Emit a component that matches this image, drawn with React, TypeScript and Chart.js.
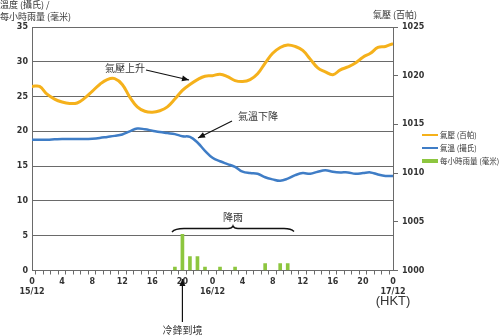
import React, { useEffect, useRef } from 'react';
import { Chart, registerables } from 'chart.js';

Chart.register(...registerables);

// ---- data ----
const hours = [0,1,2,3,4,5,6,7,8,9,10,11,12,13,14,15,16,17,18,19,20,21,22,23,24,25,26,27,28,29,30,31,32,33,34,35,36,37,38,39,40,41,42,43,44,45,46,47,48];
const pressure = [1018.9,1018.9,1018.1,1017.6,1017.3,1017.15,1017.2,1017.7,1018.4,1019.1,1019.6,1019.7,1019.1,1017.8,1016.8,1016.35,1016.25,1016.4,1016.8,1017.6,1018.5,1019.1,1019.6,1019.95,1020.0,1020.15,1019.9,1019.5,1019.4,1019.6,1020.2,1021.3,1022.3,1022.9,1023.15,1023.0,1022.6,1021.7,1020.8,1020.4,1020.1,1020.6,1020.9,1021.3,1021.9,1022.3,1022.9,1023.0,1023.3];
const temperature = [18.8,18.8,18.8,18.85,18.9,18.9,18.9,18.9,18.95,19.05,19.2,19.35,19.55,20.0,20.4,20.3,20.1,19.9,19.75,19.6,19.3,19.2,18.4,17.2,16.2,15.7,15.3,14.9,14.2,14.0,13.9,13.4,13.1,12.9,13.2,13.7,14.0,13.9,14.2,14.4,14.2,14.1,14.1,13.9,14.0,14.1,13.8,13.6,13.6];
const rainHours = [19,20,21,22,23,25,27,31,33,34];
const rainfall = [0.5,5.2,2,2,0.5,0.5,0.5,1,1,1];

const xLabelHours = [0,4,8,12,16,20,24,28,32,36,40,44,48];
const xLabels = ['0','4','8','12','16','20','0','4','8','12','16','20','0'];
const dateLabelHours = [0,24,48];
const dateLabels = ['15/12','16/12','17/12'];

const seriesNames = ['氣壓 (百帕)', '氣溫 (攝氏)', '每小時雨量 (毫米)'];
const leftTitle = ['溫度 (攝氏) /', '每小時雨量 (毫米)'];
const rightTitle = '氣壓 (百帕)';

const COL_P = '#F5B11B';
const COL_T = '#3F7DC6';
const COL_R = '#8DC63F';
const GRID = '#6a6a6a';
const TXT = '#333333';
const CJK = '"Noto Sans CJK TC", "Noto Sans CJK SC", sans-serif';
const NUM = '"DejaVu Sans", sans-serif';

function arrow(ctx: CanvasRenderingContext2D, x1: number, y1: number, x2: number, y2: number) {
  ctx.save();
  ctx.strokeStyle = '#111';
  ctx.fillStyle = '#111';
  ctx.lineWidth = 1.2;
  ctx.beginPath();
  ctx.moveTo(x1, y1);
  ctx.lineTo(x2, y2);
  ctx.stroke();
  const a = Math.atan2(y2 - y1, x2 - x1);
  const L = 7, W = 3;
  ctx.beginPath();
  ctx.moveTo(x2, y2);
  ctx.lineTo(x2 - L * Math.cos(a) + W * Math.sin(a), y2 - L * Math.sin(a) - W * Math.cos(a));
  ctx.lineTo(x2 - L * Math.cos(a) - W * Math.sin(a), y2 - L * Math.sin(a) + W * Math.cos(a));
  ctx.closePath();
  ctx.fill();
  ctx.restore();
}

const decor = {
  id: 'decor',
  afterDraw(chart: any) {
    const ctx: CanvasRenderingContext2D = chart.ctx;
    const xs = chart.scales.x;
    ctx.save();
    ctx.fillStyle = TXT;
    ctx.textBaseline = 'middle';
    ctx.font = `9px ${CJK}`;
    ctx.textAlign = 'left';
    ctx.fillText(leftTitle[0], 0, 5);
    ctx.fillText(leftTitle[1], 0, 17);
    ctx.textAlign = 'right';
    ctx.fillText(rightTitle, 417, 15);

    // legend
    ctx.textAlign = 'left';
    const lx = 422, ly = [135, 148, 161];
    ctx.lineWidth = 2;
    ctx.strokeStyle = COL_P;
    ctx.beginPath(); ctx.moveTo(lx, ly[0]); ctx.lineTo(lx + 16, ly[0]); ctx.stroke();
    ctx.strokeStyle = COL_T;
    ctx.beginPath(); ctx.moveTo(lx, ly[1]); ctx.lineTo(lx + 16, ly[1]); ctx.stroke();
    ctx.fillStyle = COL_R;
    ctx.fillRect(lx, ly[2] - 2, 16, 4);
    ctx.fillStyle = TXT;
    ctx.font = `7.5px ${CJK}`;
    seriesNames.forEach((n, i) => ctx.fillText(n, lx + 18, ly[i]));

    // (HKT)
    ctx.font = `13px "Liberation Sans", Arial, sans-serif`;
    ctx.textAlign = 'center';
    ctx.fillText('(HKT)', xs.getPixelForValue(48), 301);

    // annotations
    ctx.font = `10px ${CJK}`;
    ctx.textAlign = 'left';
    ctx.fillText('氣壓上升', 105, 68);
    arrow(ctx, 146, 70, 189, 80);
    ctx.fillText('氣溫下降', 238, 116);
    arrow(ctx, 232, 121, 198, 138);
    ctx.textAlign = 'center';
    ctx.fillText('降雨', 233, 217);
    const cx = xs.getPixelForValue(20);
    ctx.fillText('冷鋒到境', cx, 330);
    arrow(ctx, cx, 322, cx, 279);

    // brace
    ctx.strokeStyle = '#111';
    ctx.lineWidth = 1.4;
    ctx.beginPath();
    ctx.moveTo(172, 232);
    ctx.quadraticCurveTo(175, 228.5, 184, 228.5);
    ctx.lineTo(228, 228.5);
    ctx.quadraticCurveTo(232, 228.5, 233, 226);
    ctx.quadraticCurveTo(234, 228.5, 238, 228.5);
    ctx.lineTo(284, 228.5);
    ctx.quadraticCurveTo(291, 228.5, 294, 231.5);
    ctx.stroke();
    ctx.restore();
  },
};

export default function App() {
  const ref = useRef<HTMLCanvasElement | null>(null);
  useEffect(() => {
    document.body.style.margin = '0';
    const canvas = ref.current!;
    const chart = new Chart(canvas, {
      type: 'line',
      data: {
        datasets: [
          {
            type: 'line',
            label: seriesNames[0],
            data: hours.map((h, i) => ({ x: h, y: pressure[i] })),
            yAxisID: 'y1',
            borderColor: COL_P,
            borderWidth: 3,
            pointRadius: 0,
            tension: 0.4,
            order: 1,
          },
          {
            type: 'line',
            label: seriesNames[1],
            data: hours.map((h, i) => ({ x: h, y: temperature[i] })),
            yAxisID: 'y',
            borderColor: COL_T,
            borderWidth: 2.5,
            pointRadius: 0,
            tension: 0.4,
            order: 2,
          },
          {
            type: 'bar',
            label: seriesNames[2],
            data: rainHours.map((h, i) => ({ x: h, y: rainfall[i] })),
            yAxisID: 'y',
            backgroundColor: COL_R,
            barThickness: 3,
            order: 3,
          } as any,
        ],
      },
      options: {
        responsive: false,
        animation: false,
        layout: { padding: { top: 27, left: 0, right: 0, bottom: 0 } },
        plugins: { legend: { display: false }, tooltip: { enabled: false } },
        scales: {
          x: {
            type: 'linear',
            min: 0,
            max: 48,
            offset: false,
            afterFit: (s: any) => { s.height = 336 - 27 - 243.5; },
            grid: { drawOnChartArea: false, drawTicks: true, tickLength: 4, color: GRID },
            border: { display: true, color: GRID },
            ticks: {
              stepSize: 1,
              autoSkip: false,
              maxRotation: 0,
              maxTicksLimit: 100,
              padding: 3,
              color: TXT,
              font: { family: NUM, size: 8, weight: 'bold', lineHeight: 1.2 },
              callback: (v: any) => {
                const i = xLabelHours.indexOf(Number(v));
                if (i < 0) return '';
                const d = dateLabelHours.indexOf(Number(v));
                return d >= 0 ? [xLabels[i], dateLabels[d]] : xLabels[i];
              },
            },
          },
          y: {
            type: 'linear',
            position: 'left',
            min: 0,
            max: 35,
            afterFit: (s: any) => { s.width = 32; },
            grid: { color: GRID, drawTicks: false, lineWidth: 1 },
            border: { display: true, color: GRID },
            ticks: {
              stepSize: 5,
              padding: 4,
              color: TXT,
              font: { family: NUM, size: 8, weight: 'bold' },
            },
          },
          y1: {
            type: 'linear',
            position: 'right',
            min: 1000,
            max: 1025,
            afterFit: (s: any) => { s.width = 107; },
            grid: { drawOnChartArea: false, drawTicks: true, tickLength: 5, color: GRID },
            border: { display: true, color: GRID },
            ticks: {
              stepSize: 5,
              padding: 4,
              color: TXT,
              font: { family: NUM, size: 8, weight: 'bold' },
              callback: (v: any) => String(v),
            },
          },
        },
      },
      plugins: [decor],
    });
    return () => chart.destroy();
  }, []);
  return (
    <div style={{ position: 'absolute', left: 0, top: 0, width: 500, height: 336 }}>
      <canvas ref={ref} width={500} height={336} />
    </div>
  );
}
